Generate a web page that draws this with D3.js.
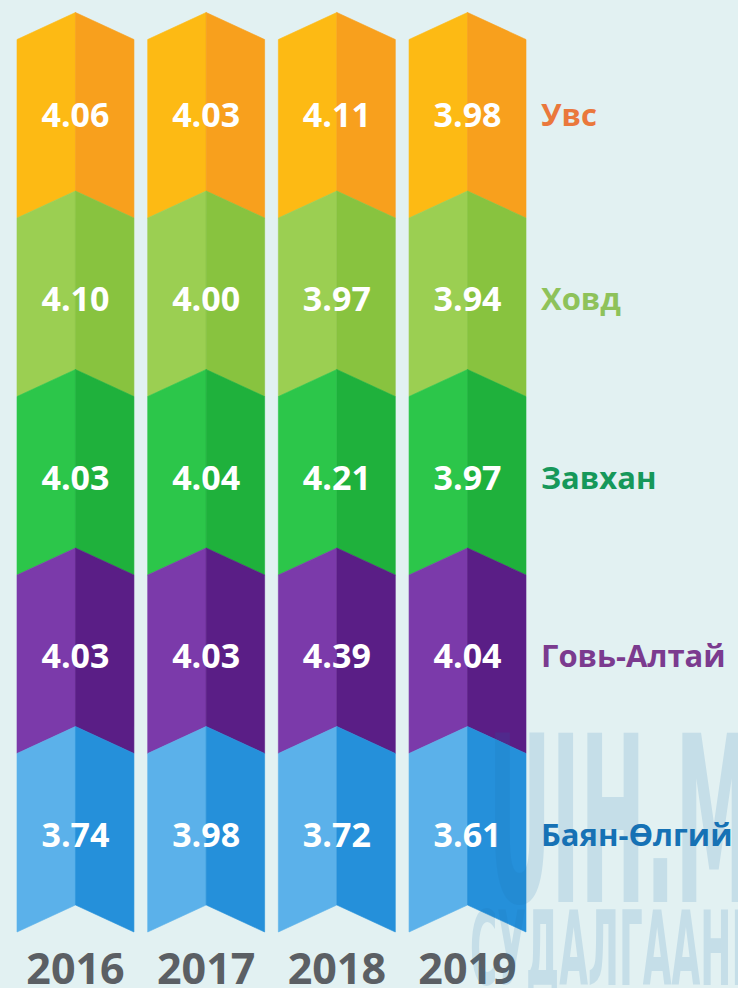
<!DOCTYPE html>
<html lang="mn">
<head>
    <meta charset="UTF-8">
    <title>Аймгуудын үзүүлэлт 2016-2019</title>
    <style>
        html, body {
            margin: 0;
            padding: 0;
            background: #e2f1f2;
        }
        svg {
            display: block;
        }
    </style>
</head>
<body>

<svg id="chart" width="738" height="988"></svg>

<script src="https://d3js.org/d3.v7.min.js"></script>
<script>
    // Years (columns) and regions (rows, top to bottom)
    const years = ["2016", "2017", "2018", "2019"];
    const regions = ["Увс", "Ховд", "Завхан", "Говь-Алтай", "Баян-Өлгий"];

    // Values per region, one per year
    const uvs        = [4.06, 4.03, 4.11, 3.98];
    const khovd      = [4.10, 4.00, 3.97, 3.94];
    const zavkhan    = [4.03, 4.04, 4.21, 3.97];
    const govAltai   = [4.03, 4.03, 4.39, 4.04];
    const bayanUlgii = [3.74, 3.98, 3.72, 3.61];
    const rows = [uvs, khovd, zavkhan, govAltai, bayanUlgii];

    // Colours: light half, dark half, label
    const lightColors = ["#fdba14", "#9bcf52", "#2cc64a", "#7b3aaa", "#5bb1ea"];
    const darkColors  = ["#f8a01d", "#88c33f", "#1fb13c", "#5a1e86", "#2590da"];
    const labelColors = ["#ea783c", "#8ec25a", "#16985a", "#7b3b8f", "#1672b5"];

    const svg = d3.select("#chart");

    const x = d3.scaleBand()
        .domain(years)
        .range([17, 526])
        .paddingInner(0.105)
        .paddingOuter(0);

    const y = d3.scaleBand()
        .domain(regions)
        .range([12.5, 905])
        .padding(0);

    const depth = 27;  // height of the chevron point

    const cells = [];
    regions.forEach((r, i) => {
        years.forEach((yr, j) => {
            cells.push({region: r, year: yr, value: rows[i][j], i: i});
        });
    });

    // Left (light) half of a chevron
    function leftHalf(d) {
        const x0 = x(d.year), xc = x0 + x.bandwidth() / 2;
        const top = y(d.region), bot = top + y.bandwidth();
        return `M${x0},${top + depth} L${xc},${top} L${xc},${bot} L${x0},${bot + depth} Z`;
    }

    // Right (dark) half of a chevron
    function rightHalf(d) {
        const x0 = x(d.year), xc = x0 + x.bandwidth() / 2, x1 = x0 + x.bandwidth();
        const top = y(d.region), bot = top + y.bandwidth();
        return `M${xc},${top} L${x1},${top + depth} L${x1},${bot + depth} L${xc},${bot} Z`;
    }

    const cell = svg.append("g").selectAll("g")
        .data(cells)
        .enter().append("g");

    cell.append("path")
        .attr("d", leftHalf)
        .style("fill", d => lightColors[d.i])
        .style("stroke", d => lightColors[d.i])
        .style("stroke-width", 0.6);

    cell.append("path")
        .attr("d", rightHalf)
        .style("fill", d => darkColors[d.i])
        .style("stroke", d => darkColors[d.i])
        .style("stroke-width", 0.6);

    // Value labels
    cell.append("text")
        .attr("x", d => x(d.year) + x.bandwidth() / 2)
        .attr("y", d => y(d.region) + y.bandwidth() / 2 + (d.i === 0 ? 13 : 19))
        .attr("dy", "0.36em")
        .style("text-anchor", "middle")
        .style("font-family", "'Open Sans', sans-serif")
        .style("font-weight", 700)
        .style("font-size", "34px")
        .style("fill", "#ffffff")
        .text(d => d.value.toFixed(2));

    // Region labels on the right
    svg.append("g").selectAll("text")
        .data(regions)
        .enter().append("text")
        .attr("x", 541)
        .attr("y", (r, i) => y(r) + y.bandwidth() / 2 + (i === 0 ? 13 : 19))
        .attr("dy", "0.36em")
        .style("font-family", "'Open Sans', sans-serif")
        .style("font-weight", 700)
        .style("font-size", "31px")
        .style("fill", (r, i) => labelColors[i])
        .text(r => r);

    // Year labels along the bottom
    svg.append("g").selectAll("text")
        .data(years)
        .enter().append("text")
        .attr("x", yr => x(yr) + x.bandwidth() / 2)
        .attr("y", 984)
        .style("text-anchor", "middle")
        .style("font-family", "'Open Sans', sans-serif")
        .style("font-weight", 700)
        .style("font-size", "43px")
        .style("fill", "#5b5f64")
        .text(yr => yr);

    // Faint watermark
    const wm = svg.append("g")
        .style("fill", "#1a6fb0")
        .style("opacity", 0.14)
        .style("font-family", "'DejaVu Sans Condensed', 'Liberation Sans Narrow', sans-serif")
        .style("font-weight", 700);

    wm.append("text")
        .attr("x", 488)
        .attr("y", 902)
        .attr("textLength", 330)
        .attr("lengthAdjust", "spacingAndGlyphs")
        .style("font-size", "232px")
        .text("UIH.MN");

    wm.append("text")
        .attr("x", 470)
        .attr("y", 985)
        .attr("textLength", 300)
        .attr("lengthAdjust", "spacingAndGlyphs")
        .style("font-size", "104px")
        .text("СУДАЛГААНЫ");
</script>
</body>
</html>
